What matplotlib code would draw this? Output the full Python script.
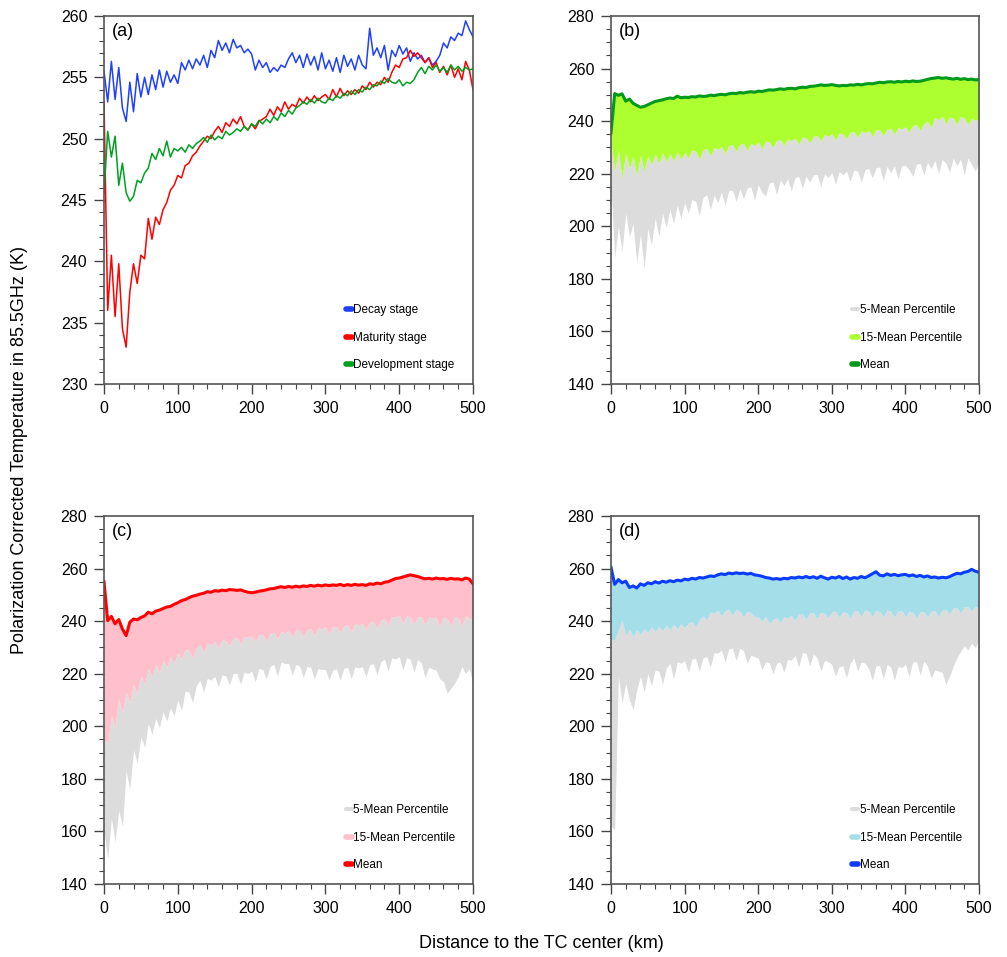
import matplotlib
matplotlib.use("Agg")
import matplotlib.pyplot as plt
from matplotlib.lines import Line2D
from matplotlib.ticker import MultipleLocator

plt.rcParams['font.family'] = ['Liberation Sans', 'DejaVu Sans']

# distance from TC center, km (5 km bins)
distance_km = list(range(0, 501, 5))

# (a) mean brightness temperature per stage, K
decay = [255.5, 253.0, 256.3, 253.2, 255.8, 252.5, 251.4, 254.6, 252.2, 255.3,
         253.4, 255.0, 253.6, 255.2, 254.0, 255.6, 254.2, 255.5, 254.6, 255.2,
         254.5, 256.2, 255.6, 256.4, 255.7, 256.5, 256.0, 256.8, 255.8, 257.2,
         256.6, 258.0, 257.2, 257.8, 257.0, 258.1, 257.4, 257.6, 257.0, 257.3,
         256.9, 255.6, 256.4, 255.8, 256.2, 255.4, 255.8, 255.5, 256.0, 255.8,
         256.5, 257.0, 256.2, 256.8, 255.8, 256.9, 256.0, 256.7, 255.6, 257.0,
         255.7, 256.4, 255.5, 256.6, 255.4, 256.8, 255.9, 256.5, 255.6, 256.8,
         256.0, 255.7, 259.0, 256.8, 257.4, 256.6, 257.6, 255.6, 257.2, 256.7,
         257.6, 256.9, 257.4, 256.3, 257.0, 256.5, 256.8, 256.2, 256.6, 256.0,
         256.3, 256.8, 257.8, 257.4, 258.3, 258.0, 258.6, 258.4, 259.6, 258.9,
         258.3]
maturity = [253.0, 236.0, 240.5, 235.5, 239.8, 234.5, 233.0, 237.5, 239.8, 238.2,
            240.5, 240.2, 243.5, 241.8, 243.6, 243.0, 244.2, 244.8, 245.8, 246.2,
            247.0, 246.8, 247.8, 248.0, 248.6, 248.9, 249.4, 249.8, 250.2, 250.0,
            250.6, 251.0, 250.5, 251.3, 251.0, 251.6, 251.2, 251.8, 251.0, 250.7,
            251.2, 250.8, 251.4, 251.6, 251.8, 252.4, 251.9, 252.6, 252.2, 253.0,
            252.4, 252.8, 252.6, 253.3, 252.9, 253.4, 253.0, 253.5, 253.1, 253.4,
            253.6, 253.2, 254.0, 253.4, 254.1, 253.5, 253.9, 253.6, 254.0, 253.7,
            254.3, 254.0, 254.6, 254.2, 254.6, 254.4, 255.0, 254.6, 255.4, 256.0,
            255.8, 256.5, 256.6, 257.2, 256.7, 257.0, 256.6, 256.2, 256.6, 255.8,
            256.2, 255.4, 255.9, 255.2, 256.0, 255.0, 255.7, 254.8, 256.3, 255.6,
            254.0]
development = [245.5, 250.6, 248.5, 250.2, 246.2, 248.0, 245.6, 244.9, 245.3, 246.6,
               246.4, 247.2, 247.6, 248.8, 248.3, 249.2, 248.6, 249.8, 248.5, 249.2,
               249.0, 249.3, 248.9, 249.5, 249.2, 249.6, 249.8, 250.1, 249.7, 250.3,
               249.9, 250.2, 250.0, 250.6, 250.3, 250.5, 250.8, 250.6, 251.0, 250.7,
               251.2, 251.0, 251.5, 251.2, 251.6, 251.3, 251.8, 251.5, 252.1, 251.8,
               252.3, 252.0, 252.5, 252.7, 253.0, 252.8, 253.2, 252.9, 253.3, 253.0,
               252.9, 253.3, 253.1, 253.5, 253.3, 253.7, 253.5, 253.9, 253.6, 254.0,
               253.8, 254.2, 254.0, 254.4, 254.3, 254.7, 254.5, 254.9, 254.6, 254.5,
               254.8, 254.3, 254.6, 254.5, 254.8, 255.4, 255.8, 255.3, 255.9, 255.6,
               256.0, 255.5, 255.8, 255.4, 256.0, 255.6, 255.9, 255.5, 255.8, 255.6,
               255.7]

# (b) development stage: mean, 15th and 5th percentile
dev_mean = [235.6, 250.5, 249.8, 250.4, 247.6, 248.4, 246.8, 246.0, 245.3, 245.6,
            246.2, 246.9, 247.5, 247.8, 248.1, 248.5, 248.8, 248.6, 249.5, 248.9,
            249.1, 249.0, 249.3, 249.2, 249.6, 249.4, 249.5, 249.9, 249.7, 250.0,
            250.2, 250.0, 250.4, 250.6, 250.5, 250.9, 250.7, 251.0, 251.2, 251.0,
            251.4, 251.3, 251.6, 251.9, 251.8, 252.0, 252.3, 252.1, 252.4, 252.5,
            252.3, 252.7, 252.9, 252.8, 253.2, 253.3, 253.5, 253.8, 253.6, 253.7,
            253.9, 253.6, 253.4, 253.6, 253.5, 253.8, 253.7, 254.0, 253.8, 254.1,
            254.3, 254.2, 254.5, 254.8, 254.6, 254.9, 255.0, 254.8, 255.1, 254.9,
            255.2, 255.0, 255.3, 255.1, 255.2, 255.5, 255.9, 256.2, 256.4, 256.6,
            256.3, 256.5, 256.2, 256.0, 256.3, 255.9, 256.2, 255.8, 256.0, 255.7,
            255.8]
dev_p15 = [232.0, 221.0, 229.0, 218.5, 228.0, 222.0, 226.5, 219.5, 227.0, 221.0,
           226.8, 223.5, 227.5, 224.0, 228.0, 224.5, 227.6, 225.0, 228.3, 225.5,
           228.0, 226.0, 229.0, 228.6, 225.5, 229.2, 229.6, 226.8, 230.0, 229.2,
           230.5, 227.8, 230.8, 231.0, 228.5, 231.2, 231.5, 228.8, 231.6, 230.8,
           232.0, 229.5, 232.4, 232.2, 230.0, 232.6, 233.0, 230.8, 233.2, 232.6,
           233.6, 231.2, 234.0, 233.6, 231.8, 234.2, 234.6, 232.4, 235.0, 234.2,
           235.2, 232.8, 235.5, 235.2, 233.2, 235.8, 236.0, 233.8, 236.3, 235.6,
           236.5, 234.2, 236.8, 236.6, 234.5, 237.0, 237.3, 235.0, 237.6, 237.0,
           238.0, 235.8, 238.4, 238.6, 236.5, 239.0, 240.0, 237.6, 241.5, 240.5,
           242.0, 239.0, 241.6, 241.2, 238.8, 241.8, 241.2, 238.6, 241.0, 240.4,
           240.8]
dev_p5 = [215.0, 188.0, 200.0, 190.5, 205.0, 196.0, 201.0, 186.0, 197.0, 184.0,
          199.0, 193.0, 203.0, 196.0, 205.0, 199.5, 206.5, 201.0, 208.0, 203.0,
          209.0, 205.0, 210.2, 209.5, 204.0, 211.0, 212.0, 206.5, 211.8, 209.0,
          213.0, 208.0, 213.5, 213.8, 209.5, 214.2, 210.5, 214.6, 215.0, 209.8,
          215.8, 213.0, 211.5, 216.5, 217.0, 212.0, 217.6, 215.5, 218.0, 213.5,
          218.5, 219.0, 214.5, 219.0, 216.8, 219.5, 219.8, 215.0, 220.0, 218.5,
          220.5, 216.0, 220.8, 219.6, 221.0, 217.0, 221.4, 221.0, 216.8, 221.5,
          222.0, 218.5, 222.2, 222.6, 217.5, 222.8, 220.5, 223.0, 218.0, 223.0,
          223.2, 221.5, 219.0, 223.6, 224.0, 219.5, 224.3, 222.0, 225.0, 220.0,
          225.5, 224.0, 220.5, 226.0, 223.0, 225.6, 219.5, 226.0, 223.5, 221.0,
          224.5]

# (c) maturity stage
mat_mean = [255.0, 240.2, 241.8, 239.0, 240.6, 237.0, 234.5, 239.6, 240.8, 240.5,
            241.4, 242.0, 243.4, 242.8, 243.8, 244.2, 244.8, 245.4, 245.6, 246.4,
            247.0, 247.8, 248.2, 248.9, 249.5, 249.8, 250.3, 250.6, 251.2, 251.0,
            251.6, 251.4, 251.8, 251.6, 252.0, 251.9, 251.7, 251.9, 251.4, 251.0,
            250.8, 251.0, 251.4, 251.6, 251.9, 252.3, 252.4, 252.8, 253.1, 252.8,
            253.2, 252.9, 253.3, 253.0, 253.4, 253.2, 253.6, 253.3, 253.7, 253.4,
            253.8, 253.5, 253.8, 253.6, 254.0, 253.5, 253.9, 253.6, 254.0, 253.7,
            253.9, 253.6, 254.2, 254.0, 254.5, 254.2, 254.8, 255.0, 255.6, 256.2,
            256.4, 256.8, 257.2, 257.6, 257.3, 257.0, 256.5, 256.1, 256.3, 256.0,
            256.4, 256.1, 256.2, 255.9, 256.3, 256.0, 256.1, 255.7, 256.4, 256.0,
            254.2]
mat_p15 = [195.0, 193.5, 204.0, 200.0, 210.5, 205.0, 213.0, 209.0, 216.0, 212.5,
           219.0, 216.0, 222.0, 219.0, 223.5, 220.5, 225.0, 222.5, 226.5, 224.0,
           228.0, 225.5, 229.2, 229.0, 226.0, 230.0, 231.0, 228.2, 231.6, 231.0,
           232.2, 229.8, 232.8, 232.6, 230.5, 233.4, 233.8, 231.2, 234.2, 233.8,
           234.5, 232.0, 235.0, 234.8, 232.6, 235.4, 235.8, 233.2, 236.0, 235.6,
           236.3, 233.8, 236.6, 236.4, 234.2, 236.8, 237.2, 234.6, 237.5, 237.0,
           237.8, 235.2, 238.0, 237.8, 235.6, 238.3, 238.6, 236.0, 239.0, 238.6,
           239.2, 236.8, 239.6, 239.8, 237.4, 240.2, 241.0, 238.2, 241.8, 241.5,
           242.3, 239.2, 242.0, 241.6, 238.8, 241.7, 241.5, 238.6, 241.6, 241.2,
           241.2, 238.2, 241.5, 241.0, 237.8, 241.6, 241.4, 238.0, 242.0, 241.2,
           240.4]
mat_p5 = [160.0, 149.5, 165.0, 156.0, 168.0, 162.0, 183.0, 176.0, 191.0, 186.0,
          196.0, 192.0, 201.0, 197.0, 203.0, 199.5, 205.5, 202.0, 207.0, 204.0,
          210.0, 206.0, 213.5, 213.0, 209.0, 215.5, 217.5, 213.0, 218.2, 217.6,
          219.0, 215.0, 219.6, 219.2, 215.8, 220.0, 220.2, 216.0, 220.6, 220.0,
          221.0, 217.0, 222.0, 221.6, 218.0, 222.7, 223.6, 219.0, 224.6, 223.8,
          224.0, 219.5, 223.5, 223.0, 218.6, 222.8, 222.5, 218.0, 222.0, 221.6,
          221.6, 217.6, 221.4, 221.8, 217.5, 222.0, 222.4, 218.2, 222.6, 222.2,
          222.7, 218.8, 223.5, 223.8, 219.5, 224.5, 225.5, 221.0, 226.0, 225.6,
          226.5, 221.5, 226.0, 225.6, 220.5, 225.5, 224.0, 218.5, 222.5, 221.8,
          221.4, 218.0, 217.0, 212.6, 214.5, 216.4, 219.0, 222.7, 220.0, 222.0,
          216.4]

# (d) decay stage
dec_mean = [260.5, 254.0, 255.8, 254.6, 255.2, 252.8, 253.4, 252.6, 254.2, 253.6,
            254.6, 254.2, 255.0, 254.5, 255.2, 254.8, 255.4, 255.0, 255.6, 255.3,
            256.0, 255.7, 256.3, 256.0, 256.6, 256.4, 256.8, 257.2, 257.0, 257.6,
            258.0, 257.7, 258.3, 258.0, 258.4, 258.1, 258.3, 257.9, 258.2, 257.6,
            257.4, 257.1, 256.6, 256.4, 256.0, 256.2, 255.9, 256.3, 256.1, 256.6,
            256.4, 256.8, 256.5, 257.0, 256.5, 256.9, 256.3, 257.1, 256.5, 256.0,
            256.7, 256.4, 257.0, 256.2, 256.8, 256.0, 256.6, 256.3, 257.0, 256.5,
            257.2, 258.0, 258.8, 257.5, 257.2, 258.0, 257.4, 257.8, 257.3, 257.6,
            257.8, 257.2, 257.6, 257.0, 257.4, 256.8, 257.2, 256.6, 256.8, 256.4,
            256.7, 256.5, 256.9, 257.6, 258.2, 258.0, 258.6, 258.9, 259.7, 259.0,
            258.6]
dec_p15 = [233.0, 232.8, 236.5, 240.4, 234.5, 237.0, 234.1, 236.6, 235.0, 237.2,
           235.6, 237.8, 236.0, 238.0, 236.4, 238.4, 236.6, 238.8, 237.0, 239.0,
           237.5, 239.2, 240.0, 238.0, 240.5, 242.0, 240.4, 243.5, 243.0, 244.2,
           242.0, 244.0, 244.4, 242.2, 244.5, 243.6, 241.8, 243.8, 243.2, 241.6,
           241.5, 240.0, 241.8, 239.2, 240.6, 241.2, 239.4, 241.7, 241.2, 242.2,
           240.2, 242.6, 242.8, 240.6, 243.0, 243.2, 241.0, 243.4, 243.0, 241.2,
           243.6, 243.8, 241.4, 243.6, 243.2, 241.2, 243.8, 244.0, 241.8, 244.2,
           243.8, 241.8, 244.2, 243.6, 241.6, 244.2, 243.8, 241.5, 243.8, 244.0,
           241.6, 243.8, 243.4, 241.2, 243.5, 243.6, 241.4, 243.8, 244.0, 241.8,
           244.2, 244.5, 242.6, 245.0, 245.2, 243.0, 245.4, 245.5, 243.8, 245.6,
           245.0]
dec_p5 = [162.0, 160.6, 219.0, 208.8, 216.4, 210.0, 206.2, 214.0, 219.0, 213.0,
          220.0, 215.5, 221.4, 221.0, 216.0, 222.0, 224.0, 218.0, 224.5, 224.0,
          225.0, 220.5, 225.6, 225.8, 221.0, 226.0, 226.5, 222.5, 228.0, 227.8,
          229.0, 224.5, 229.5, 229.7, 225.0, 229.7, 228.8, 224.0, 227.0, 226.5,
          226.0, 221.5, 224.5, 224.2, 220.0, 224.0, 224.5, 220.5, 225.5, 225.2,
          227.0, 222.5, 228.0, 227.8, 223.0, 227.5, 226.0, 221.0, 225.0, 224.6,
          223.5, 219.0, 222.7, 223.0, 218.5, 224.0, 226.0, 221.0, 224.5, 224.0,
          222.0, 217.5, 223.0, 223.2, 218.0, 223.5, 222.5, 217.5, 222.7, 222.4,
          223.5, 219.0, 224.5, 224.6, 219.5, 224.8, 223.0, 218.5, 221.4, 221.0,
          220.5, 216.0, 219.0, 223.0, 226.0, 228.5, 230.5, 229.0, 231.6, 230.0,
          232.8]

GRAY = '#dcdcdc'
W, H = 1007, 957

fig = plt.figure(figsize=(10.07, 9.57), dpi=100)


def add_axes(left, top, right, bottom):
    return fig.add_axes([left / W, 1 - bottom / H, (right - left) / W, (bottom - top) / H])


def style(ax, ymin, ymax, major, minor, tag):
    ax.set_xlim(0, 500)
    ax.set_ylim(ymin, ymax)
    ax.xaxis.set_major_locator(MultipleLocator(100))
    ax.xaxis.set_minor_locator(MultipleLocator(20))
    ax.yaxis.set_major_locator(MultipleLocator(major))
    ax.yaxis.set_minor_locator(MultipleLocator(minor))
    ax.tick_params(which='both', direction='out', top=False, right=False,
                   color='#444444', labelsize=11.5, pad=5)
    ax.tick_params(which='major', length=7, width=1.0)
    ax.tick_params(which='minor', length=3.5, width=0.8)
    for s in ax.spines.values():
        s.set_color('#555555')
        s.set_linewidth(1.2)
    ax.text(0.022, 0.957, tag, transform=ax.transAxes, fontsize=13, va='center')


def legend(ax, colors, labels, widths):
    handles = [Line2D([], [], color=c, lw=w, solid_capstyle='round')
               for c, w in zip(colors, widths)]
    ax.legend(handles, labels, loc='lower left', bbox_to_anchor=(0.655, 0.035),
              frameon=False, fontsize=8.5, handlelength=0.5, handletextpad=0.15,
              labelspacing=1.3, borderaxespad=0, borderpad=0)


# (a)
ax = add_axes(104, 16, 473, 384)
ax.plot(distance_km, decay, color='#1f3fff', lw=1.1)
ax.plot(distance_km, maturity, color='#ff0000', lw=1.1)
ax.plot(distance_km, development, color='#00a020', lw=1.1)
style(ax, 230, 260, 5, 1, '(a)')
legend(ax, ['#1f3fff', '#ff0000', '#00a020'],
       ['Decay stage', 'Maturity stage', 'Development stage'], [4, 4, 4])


def band_panel(box, mean, p15, p5, fill_color, line_color, tag):
    ax = add_axes(*box)
    ax.fill_between(distance_km, p5, p15, color=GRAY, lw=0)
    ax.fill_between(distance_km, p15, mean, color=fill_color, lw=0)
    ax.plot(distance_km, mean, color=line_color, lw=2.2)
    style(ax, 140, 280, 20, 5, tag)
    legend(ax, [GRAY, fill_color, line_color],
           ['5-Mean Percentile', '15-Mean Percentile', 'Mean'], [3, 4, 4])
    return ax


band_panel((611, 16, 979, 384), dev_mean, dev_p15, dev_p5, '#adff2f', '#009a1a', '(b)')
band_panel((104, 516, 473, 884), mat_mean, mat_p15, mat_p5, '#ffc0cb', '#ff0000', '(c)')
band_panel((611, 516, 979, 884), dec_mean, dec_p15, dec_p5, '#a4dfe9', '#0a3cff', '(d)')

fig.text(20 / W, 1 - 450 / H, 'Polarization Corrected Temperature in 85.5GHz (K)',
         rotation=90, ha='center', va='center', fontsize=13)
fig.text(541.5 / W, 1 - 944 / H, 'Distance to the TC center (km)',
         ha='center', va='center', fontsize=13)

fig.savefig('out.png', dpi=100)
